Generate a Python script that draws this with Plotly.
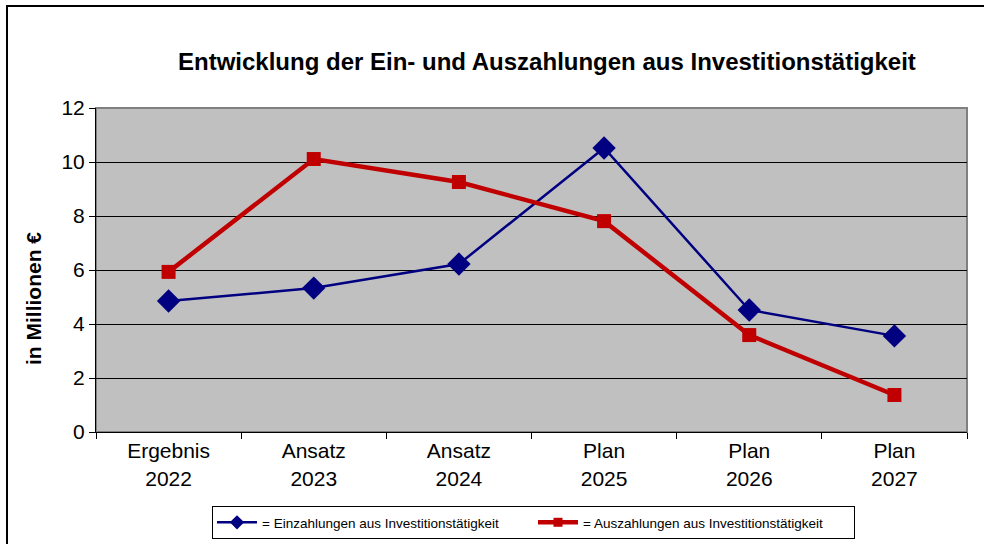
import plotly.graph_objects as go

categories = ["Ergebnis<br>2022", "Ansatz<br>2023", "Ansatz<br>2024", "Plan<br>2025", "Plan<br>2026", "Plan<br>2027"]
einzahlungen = [4.85, 5.33, 6.22, 10.52, 4.52, 3.56]
auszahlungen = [5.93, 10.11, 9.26, 7.81, 3.59, 1.37]
y_ticks = [0, 2, 4, 6, 8, 10, 12]

series_names = ["= Einzahlungen aus Investitionstätigkeit", "= Auszahlungen aus Investitionstätigkeit"]
BLUE, RED = "#000080", "#C00000"

FONT = "Liberation Sans, Arial, sans-serif"

fig = go.Figure()
fig.add_trace(go.Scatter(
    x=categories, y=einzahlungen, mode="lines+markers",
    name=series_names[0], showlegend=False, legendgroup="e",
    line=dict(color=BLUE, width=2.5),
    marker=dict(symbol="diamond", size=18, color=BLUE),
))
fig.add_trace(go.Scatter(
    x=categories, y=auszahlungen, mode="lines+markers",
    name=series_names[1], showlegend=False, legendgroup="a",
    line=dict(color=RED, width=4.5),
    marker=dict(symbol="square", size=14, color=RED),
))
# legend-only entries with smaller symbols (as in the reference legend)
fig.add_trace(go.Scatter(
    x=[None], y=[None], mode="lines+markers", name=series_names[0], legendgroup="e",
    line=dict(color=BLUE, width=2.5), marker=dict(symbol="diamond", size=11, color=BLUE),
))
fig.add_trace(go.Scatter(
    x=[None], y=[None], mode="lines+markers", name=series_names[1], legendgroup="a",
    line=dict(color=RED, width=4.5), marker=dict(symbol="square", size=9, color=RED),
))

L, R, T, B = 96, 17, 108, 112
W, H = 984, 544
pw, ph = W - L - R, H - T - B

def px_x(p):
    return (p - L) / pw

def px_y(p):
    return (H - B - p) / ph

fig.update_layout(
    width=W, height=H,
    margin=dict(l=L, r=R, t=T, b=B, autoexpand=False),
    paper_bgcolor="white",
    plot_bgcolor="#C0C0C0",
    font=dict(family=FONT, color="black"),
    showlegend=True,
    legend=dict(
        orientation="h", x=px_x(212), y=px_y(506), xanchor="left", yanchor="top",
        bordercolor="black", borderwidth=1, bgcolor="white",
        font=dict(size=13.5, family=FONT), itemwidth=40, entrywidth=266,
        itemclick=False, itemdoubleclick=False,
    ),
    xaxis=dict(
        type="category", range=[-0.5, 5.5],
        showgrid=False, showline=True, linecolor="black", linewidth=1,
        ticks="outside", tickson="boundaries", ticklen=6, tickcolor="black",
        tickfont=dict(size=21, family=FONT), zeroline=False,
    ),
    yaxis=dict(
        range=[0, 12], tickvals=y_ticks,
        showgrid=True, gridcolor="black", gridwidth=1,
        showline=True, linecolor="black", linewidth=1,
        ticks="outside", ticklen=6, tickcolor="black",
        tickfont=dict(size=21, family=FONT), zeroline=False,
    ),
    shapes=[
        dict(type="rect", xref="paper", yref="paper", x0=0, x1=1, y0=0, y1=1,
             line=dict(color="#808080", width=2), layer="below"),
        dict(type="rect", xref="paper", yref="paper",
             x0=px_x(7), x1=px_x(995), y0=px_y(555), y1=px_y(6),
             line=dict(color="black", width=2), fillcolor="rgba(0,0,0,0)"),
    ],
    annotations=[
        dict(text="<b>Entwicklung der Ein- und Auszahlungen aus Investitionstätigkeit</b>",
             xref="paper", yref="paper", x=px_x(547), y=px_y(61),
             xanchor="center", yanchor="middle", showarrow=False,
             font=dict(size=24, family=FONT, color="black")),
        dict(text="<b>in Millionen €</b>",
             xref="paper", yref="paper", x=px_x(33), y=px_y(299),
             xanchor="center", yanchor="middle", showarrow=False, textangle=-90,
             font=dict(size=21, family=FONT, color="black")),
    ],
)

fig.write_html("out.html", config={"displayModeBar": False},
               post_script="document.body.style.margin='0';document.body.style.overflow='hidden';")
